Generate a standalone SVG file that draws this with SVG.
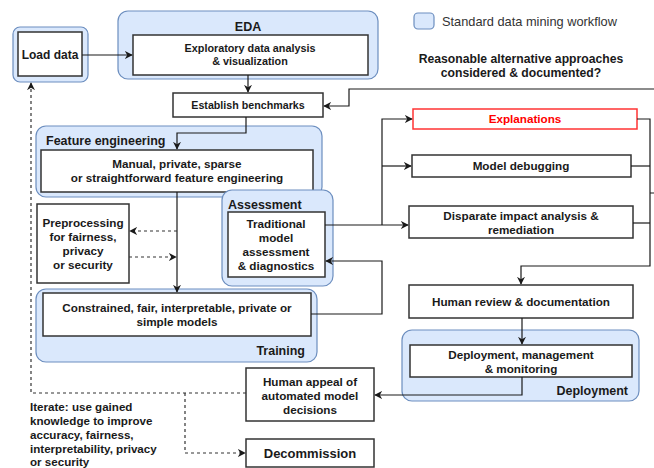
<svg xmlns="http://www.w3.org/2000/svg" width="654" height="468" viewBox="0 0 654 468">
<style>
.grp{fill:#dae8fc;stroke:#6c8ebf;stroke-width:1.2}
.box{fill:#fff;stroke:#333;stroke-width:1.5}
.t{font-family:"Liberation Sans",Arial,sans-serif;font-weight:bold;font-size:11.7px;fill:#1a1a1a;text-anchor:middle}
.h{font-family:"Liberation Sans",Arial,sans-serif;font-weight:bold;font-size:12.5px;fill:#1a1a1a}
.n{font-family:"Liberation Sans",Arial,sans-serif;font-weight:bold;font-size:11.6px;fill:#1a1a1a}
.ln{fill:none;stroke:#1a1a1a;stroke-width:1.2}
.ds{fill:none;stroke:#333;stroke-width:1.2;stroke-dasharray:3,3}
</style>
<defs>
<marker id="a" viewBox="0 0 10 10" refX="9" refY="5" markerWidth="8" markerHeight="8" markerUnits="userSpaceOnUse" orient="auto">
<path d="M0,0 L10,5 L0,10 L3,5 Z" fill="#1a1a1a"/>
</marker>
</defs>

<g id="legend">
<rect x="414" y="13" width="20" height="16" rx="4" class="grp"/>
<text x="442" y="25.5" style="font-family:'Liberation Sans',Arial,sans-serif;font-size:12.8px;fill:#333">Standard data mining workflow</text>
</g>
<g id="question">
<text class="t" x="521" y="63" style="font-size:12.2px">Reasonable alternative approaches</text>
<text class="t" x="521" y="77" style="font-size:12.2px">considered &amp; documented?</text>
</g>

<g id="load-data">
<rect x="13" y="27" width="75" height="55" rx="7" class="grp"/>
<rect x="18" y="32" width="64" height="44" class="box"/>
<text class="t" x="50" y="59" style="font-size:12px">Load data</text>
</g>

<g id="eda">
<rect x="118" y="11" width="260" height="68" rx="10" class="grp"/>
<text class="h" x="248" y="31" text-anchor="middle">EDA</text>
<rect x="133" y="35" width="235" height="40" class="box"/>
<text class="t" x="250" y="52" style="font-size:10.8px">Exploratory data analysis</text>
<text class="t" x="250" y="65" style="font-size:10.8px">&amp; visualization</text>
</g>

<g id="benchmarks">
<rect x="173" y="93" width="150" height="24" class="box"/>
<text class="t" x="248" y="109" style="font-size:10.7px">Establish benchmarks</text>
</g>

<g id="feature-engineering">
<rect x="36" y="126" width="286" height="71" rx="10" class="grp"/>
<text class="h" x="46" y="145">Feature engineering</text>
<rect x="41" y="150" width="272" height="42" class="box"/>
<text class="t" x="177" y="168">Manual, private, sparse</text>
<text class="t" x="177" y="182">or straightforward feature engineering</text>
</g>

<g id="assessment">
<rect x="222" y="190" width="111" height="96" rx="10" class="grp"/>
<text class="h" x="228" y="209">Assessment</text>
<rect x="228" y="212" width="97" height="65" class="box"/>
<text class="t" x="276" y="228">Traditional</text>
<text class="t" x="276" y="242">model</text>
<text class="t" x="276" y="256">assessment</text>
<text class="t" x="276" y="270">&amp; diagnostics</text>
</g>

<g id="preprocessing">
<rect x="37" y="204" width="92" height="79" class="box"/>
<text class="t" x="83" y="227">Preprocessing</text>
<text class="t" x="83" y="241">for fairness,</text>
<text class="t" x="83" y="255">privacy</text>
<text class="t" x="83" y="269">or security</text>
</g>

<g id="training">
<rect x="36" y="289" width="281" height="73" rx="10" class="grp"/>
<rect x="43" y="293" width="268" height="43" class="box"/>
<text class="t" x="177" y="312">Constrained, fair, interpretable, private or</text>
<text class="t" x="177" y="326">simple models</text>
<text class="h" x="305" y="355" text-anchor="end">Training</text>
</g>

<g id="explanations">
<rect x="413" y="109" width="224" height="20" style="fill:#fff;stroke:#ff3333;stroke-width:1.5"/>
<text class="t" x="525" y="123" style="fill:#ff0000">Explanations</text>
</g>

<g id="model-debugging">
<rect x="412" y="155" width="219" height="22" class="box"/>
<text class="t" x="521" y="170">Model debugging</text>
</g>

<g id="disparate-impact">
<rect x="409" y="206" width="224" height="32" class="box"/>
<text class="t" x="521" y="220">Disparate impact analysis &amp;</text>
<text class="t" x="521" y="234">remediation</text>
</g>

<g id="human-review">
<rect x="409" y="285" width="224" height="33" class="box"/>
<text class="t" x="521" y="306">Human review &amp; documentation</text>
</g>

<g id="deployment">
<rect x="402" y="330" width="237" height="71" rx="10" class="grp"/>
<rect x="410" y="345" width="222" height="32" class="box"/>
<text class="t" x="521" y="359">Deployment, management</text>
<text class="t" x="521" y="373">&amp; monitoring</text>
<text class="h" x="628" y="395" text-anchor="end">Deployment</text>
</g>

<g id="human-appeal">
<rect x="246" y="368" width="128" height="53" class="box"/>
<text class="t" x="310" y="386">Human appeal of</text>
<text class="t" x="310" y="400">automated model</text>
<text class="t" x="310" y="414">decisions</text>
</g>

<g id="decommission">
<rect x="246" y="439" width="128" height="28" class="box"/>
<text class="t" x="310" y="458" style="font-size:13px">Decommission</text>
</g>

<g id="iterate-note">
<text class="n" x="30" y="411">Iterate: use gained</text>
<text class="n" x="30" y="425">knowledge to improve</text>
<text class="n" x="30" y="439">accuracy, fairness,</text>
<text class="n" x="30" y="453">interpretability, privacy</text>
<text class="n" x="30" y="466">or security</text>
</g>

<g id="connectors">
<path class="ln" d="M82,55 H132" marker-end="url(#a)"/>
<path class="ln" d="M248,75 V92" marker-end="url(#a)"/>
<path class="ln" d="M246,117 V133 H177 V149" marker-end="url(#a)"/>
<path class="ln" d="M177,192 V292" marker-end="url(#a)"/>
<path class="ds" d="M177,231 H130" marker-end="url(#a)"/>
<path class="ds" d="M129,257 H176" marker-end="url(#a)"/>
<path class="ln" d="M325,225 H408" marker-end="url(#a)"/>
<path class="ln" d="M382,225 V119 H412" marker-end="url(#a)"/>
<path class="ln" d="M382,166 H411" marker-end="url(#a)"/>
<path class="ln" d="M311,314 H382 V261 H326" marker-end="url(#a)"/>
<path class="ln" d="M637,119 H650 V266 H521 V284" marker-end="url(#a)"/>
<path class="ln" d="M631,166 H650"/>
<path class="ln" d="M633,223 H650"/>
<path class="ln" d="M650,193 H662 V89 H349 V106 H324" marker-end="url(#a)"/>
<path class="ln" d="M522,318 V344" marker-end="url(#a)"/>
<path class="ln" d="M522,377 V395 H375" marker-end="url(#a)"/>
<path class="ds" d="M246,393 H31 V83" marker-end="url(#a)"/>
<path class="ds" d="M185,393 V453 H245" marker-end="url(#a)"/>
</g>
</svg>
